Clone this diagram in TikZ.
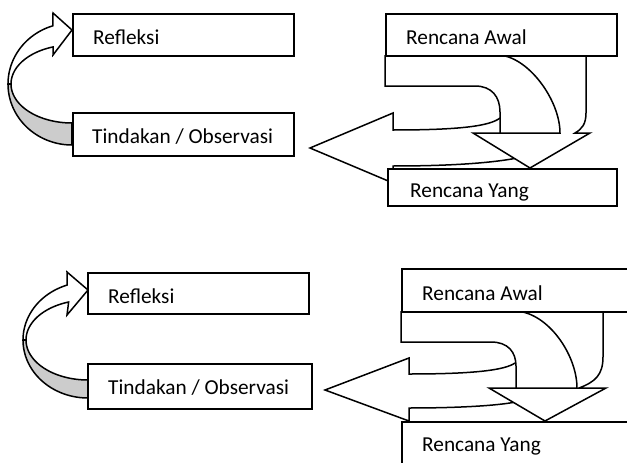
\documentclass[tikz,border=0pt]{standalone}
\usepackage{fontspec}
\setmainfont{Carlito}
\begin{document}
\begin{tikzpicture}[x=1pt,y=-1pt,
  box/.style={draw, fill=white, line width=1.5pt, rectangle, inner sep=0pt, anchor=north west},
  lbl/.style={inner sep=0pt, anchor=base west, font=\fontsize{21.3}{25}\selectfont},
  shp/.style={line width=1.5pt, line join=miter},
  back/.style={shp, draw, fill=black!20},
  front/.style={shp, draw, fill=white}]
\clip (0,0) rectangle (627,463);
\fill[white] (0,0) rectangle (627,463);

% ===== top left: curved arrow =====
\path[back] plot[domain=90:180, samples=40, variable=\t] ({72+64*cos(\t)},{84+61*sin(\t)})
  -- plot[domain=0:1, samples=40, variable=\t] ({72+61*cos(180-90*\t)},{84+39*sin(180-90*\t)}) -- cycle;
\path[front] plot[domain=180:252.7, samples=40, variable=\t] ({72+64*cos(\t)},{84+61*sin(\t)})
  -- (53,13) -- (72,30) -- (53,55)
  -- plot[domain=0:1, samples=40, variable=\t] ({72+61*cos(251.9-71.9*\t)},{84+39*sin(251.9-71.9*\t)}) -- cycle;

% ===== top right: U-turn arrow and down arrow =====
\draw[shp] (385,55) -- (385,86) -- (475,86) .. controls (492,86) and (500,97) .. (500,112) -- (500,145);
\draw[shp] (500,118) .. controls (490,126) and (460,130) .. (393,130) -- (393,113) -- (310,148)
  -- (393,183) -- (393,166) .. controls (450,166) and (495,163) .. (522,157);
\path[front] (498,55) .. controls (528,56) and (560,100) .. (560,133) -- (473,133) -- (530,168)
  -- (590,133) -- (575,133) .. controls (582,129) and (586,124) .. (586,113) -- (586,55) -- cycle;

% ===== top boxes =====
\node[box, minimum width=221pt, minimum height=42pt] (refl1) at (72,13) {};
\node[box, minimum width=221pt, minimum height=43pt] (tind1) at (72,112) {};
\node[box, minimum width=231pt, minimum height=42pt] (awal1) at (385,13) {};
\node[box, minimum width=229pt, minimum height=37pt] (yang1) at (387,168) {};
\node[lbl] (trefl1) at (93,45) {Refleksi};
\node[lbl] (ttind1) at (92,143) {Tindakan / Observasi};
\node[lbl] (tawal1) at (406,45) {Rencana Awal};
\node[lbl] (tyang1) at (410,197) {Rencana Yang};

% ===== bottom left: curved arrow =====
\path[back] plot[domain=90:180, samples=40, variable=\t] ({88+65*cos(\t)},{340+58*sin(\t)})
  -- plot[domain=0:1, samples=40, variable=\t] ({88+62*cos(180-90*\t)},{340+40*sin(180-90*\t)}) -- cycle;
\path[front] plot[domain=180:251.2, samples=40, variable=\t] ({88+65*cos(\t)},{340+58*sin(\t)})
  -- (67,272) -- (88,290) -- (67,315)
  -- plot[domain=0:1, samples=40, variable=\t] ({88+62*cos(251.8-71.8*\t)},{340+40*sin(251.8-71.8*\t)}) -- cycle;

% ===== bottom right: U-turn arrow and down arrow =====
\draw[shp] (401,311) -- (401,342) -- (491,342) .. controls (508,342) and (516,352) .. (516,366) -- (516,400);
\draw[shp] (515,363) .. controls (505,370) and (475,374) .. (409,374) -- (409,358) -- (325,390)
  -- (409,421) -- (409,408) .. controls (465,408) and (505,405) .. (520,401);
\path[front] (515,311) .. controls (548,312) and (577,355) .. (577,388) -- (489,388) -- (545,421)
  -- (606,388) -- (579,388) .. controls (595,382) and (603,375) .. (603,357) -- (603,311) -- cycle;

% ===== bottom boxes =====
\node[box, minimum width=221pt, minimum height=41pt] (refl2) at (87,272) {};
\node[box, minimum width=224pt, minimum height=45pt] (tind2) at (87,363) {};
\node[box, minimum width=240pt, minimum height=43pt] (awal2) at (401,268) {};
\node[box, minimum width=240pt, minimum height=60pt] (yang2) at (401,421) {};
\node[lbl] (trefl2) at (108,303) {Refleksi};
\node[lbl] (ttind2) at (108,394) {Tindakan / Observasi};
\node[lbl] (tawal2) at (422,300) {Rencana Awal};
\node[lbl] (tyang2) at (422,451) {Rencana Yang};
\end{tikzpicture}
\end{document}
